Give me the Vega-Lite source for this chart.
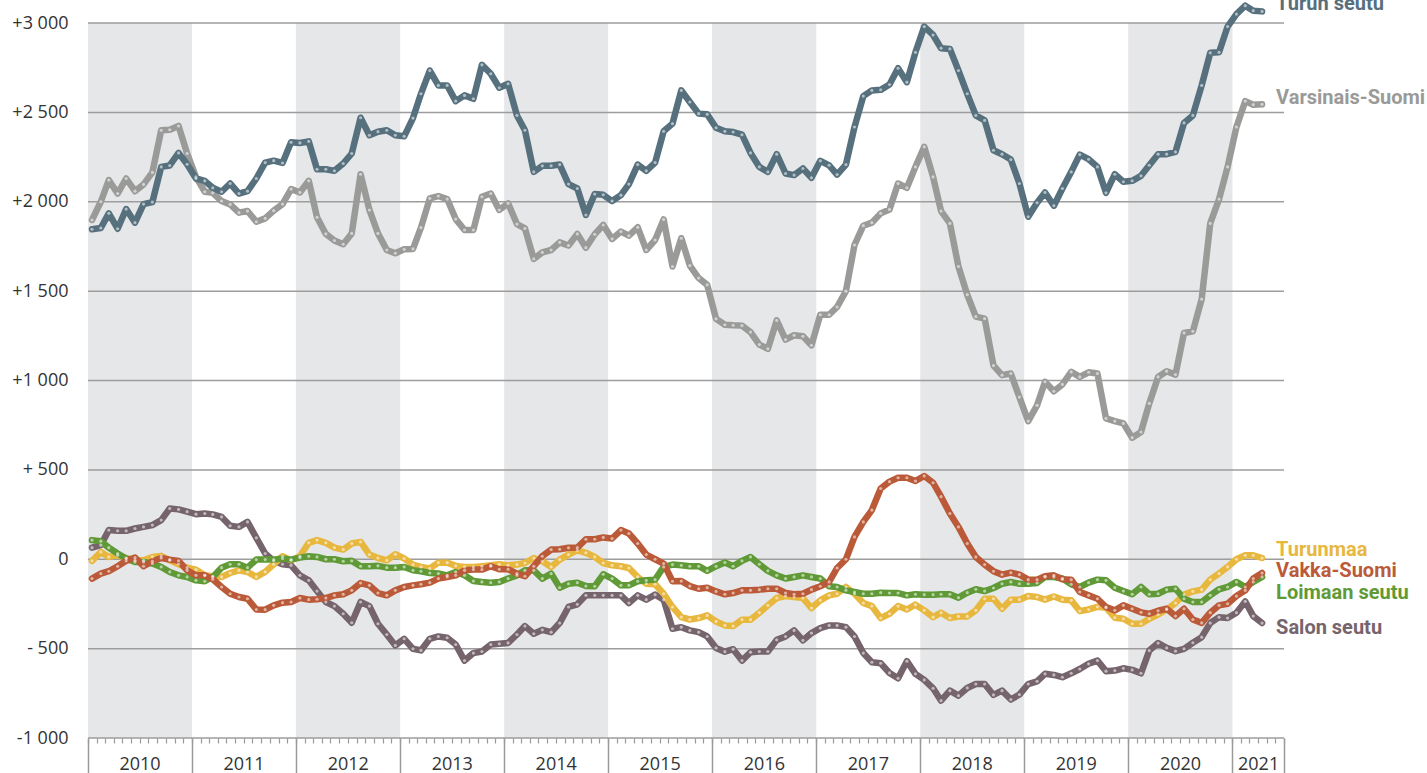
{
"$schema": "https://vega.github.io/schema/vega-lite/v6.json",
"width": 1196,
"height": 715,
"autosize": {"type": "none"},
"padding": {"left": 88, "top": 23, "right": 143, "bottom": 35},
"background": "white",
"config": {"view": {"stroke": null}},
"data": {"format": {"parse": {"date": "date"}}, "values": [
{"name":"Varsinais-Suomi","date":"2010-01-15","value":1898},{"name":"Varsinais-Suomi","date":"2010-02-15","value":2000},{"name":"Varsinais-Suomi","date":"2010-03-15","value":2121},{"name":"Varsinais-Suomi","date":"2010-04-15","value":2046},{"name":"Varsinais-Suomi","date":"2010-05-15","value":2130},{"name":"Varsinais-Suomi","date":"2010-06-15","value":2059},{"name":"Varsinais-Suomi","date":"2010-07-15","value":2097},{"name":"Varsinais-Suomi","date":"2010-08-15","value":2164},{"name":"Varsinais-Suomi","date":"2010-09-15","value":2400},{"name":"Varsinais-Suomi","date":"2010-10-15","value":2403},{"name":"Varsinais-Suomi","date":"2010-11-15","value":2424},{"name":"Varsinais-Suomi","date":"2010-12-15","value":2270},
{"name":"Varsinais-Suomi","date":"2011-01-15","value":2139},{"name":"Varsinais-Suomi","date":"2011-02-15","value":2056},{"name":"Varsinais-Suomi","date":"2011-03-15","value":2050},{"name":"Varsinais-Suomi","date":"2011-04-15","value":2004},{"name":"Varsinais-Suomi","date":"2011-05-15","value":1985},{"name":"Varsinais-Suomi","date":"2011-06-15","value":1939},{"name":"Varsinais-Suomi","date":"2011-07-15","value":1948},{"name":"Varsinais-Suomi","date":"2011-08-15","value":1888},{"name":"Varsinais-Suomi","date":"2011-09-15","value":1907},{"name":"Varsinais-Suomi","date":"2011-10-15","value":1950},{"name":"Varsinais-Suomi","date":"2011-11-15","value":1987},{"name":"Varsinais-Suomi","date":"2011-12-15","value":2071},
{"name":"Varsinais-Suomi","date":"2012-01-15","value":2052},{"name":"Varsinais-Suomi","date":"2012-02-15","value":2117},{"name":"Varsinais-Suomi","date":"2012-03-15","value":1913},{"name":"Varsinais-Suomi","date":"2012-04-15","value":1820},{"name":"Varsinais-Suomi","date":"2012-05-15","value":1783},{"name":"Varsinais-Suomi","date":"2012-06-15","value":1762},{"name":"Varsinais-Suomi","date":"2012-07-15","value":1823},{"name":"Varsinais-Suomi","date":"2012-08-15","value":2154},{"name":"Varsinais-Suomi","date":"2012-09-15","value":1954},{"name":"Varsinais-Suomi","date":"2012-10-15","value":1823},{"name":"Varsinais-Suomi","date":"2012-11-15","value":1730},{"name":"Varsinais-Suomi","date":"2012-12-15","value":1712},
{"name":"Varsinais-Suomi","date":"2013-01-15","value":1734},{"name":"Varsinais-Suomi","date":"2013-02-15","value":1736},{"name":"Varsinais-Suomi","date":"2013-03-15","value":1855},{"name":"Varsinais-Suomi","date":"2013-04-15","value":2019},{"name":"Varsinais-Suomi","date":"2013-05-15","value":2032},{"name":"Varsinais-Suomi","date":"2013-06-15","value":2015},{"name":"Varsinais-Suomi","date":"2013-07-15","value":1903},{"name":"Varsinais-Suomi","date":"2013-08-15","value":1842},{"name":"Varsinais-Suomi","date":"2013-09-15","value":1842},{"name":"Varsinais-Suomi","date":"2013-10-15","value":2028},{"name":"Varsinais-Suomi","date":"2013-11-15","value":2046},{"name":"Varsinais-Suomi","date":"2013-12-15","value":1954},
{"name":"Varsinais-Suomi","date":"2014-01-15","value":1991},{"name":"Varsinais-Suomi","date":"2014-02-15","value":1875},{"name":"Varsinais-Suomi","date":"2014-03-15","value":1851},{"name":"Varsinais-Suomi","date":"2014-04-15","value":1680},{"name":"Varsinais-Suomi","date":"2014-05-15","value":1717},{"name":"Varsinais-Suomi","date":"2014-06-15","value":1730},{"name":"Varsinais-Suomi","date":"2014-07-15","value":1773},{"name":"Varsinais-Suomi","date":"2014-08-15","value":1755},{"name":"Varsinais-Suomi","date":"2014-09-15","value":1820},{"name":"Varsinais-Suomi","date":"2014-10-15","value":1743},{"name":"Varsinais-Suomi","date":"2014-11-15","value":1818},{"name":"Varsinais-Suomi","date":"2014-12-15","value":1870},
{"name":"Varsinais-Suomi","date":"2015-01-15","value":1792},{"name":"Varsinais-Suomi","date":"2015-02-15","value":1833},{"name":"Varsinais-Suomi","date":"2015-03-15","value":1810},{"name":"Varsinais-Suomi","date":"2015-04-15","value":1857},{"name":"Varsinais-Suomi","date":"2015-05-15","value":1730},{"name":"Varsinais-Suomi","date":"2015-06-15","value":1786},{"name":"Varsinais-Suomi","date":"2015-07-15","value":1901},{"name":"Varsinais-Suomi","date":"2015-08-15","value":1638},{"name":"Varsinais-Suomi","date":"2015-09-15","value":1796},{"name":"Varsinais-Suomi","date":"2015-10-15","value":1643},{"name":"Varsinais-Suomi","date":"2015-11-15","value":1573},{"name":"Varsinais-Suomi","date":"2015-12-15","value":1535},
{"name":"Varsinais-Suomi","date":"2016-01-15","value":1345},{"name":"Varsinais-Suomi","date":"2016-02-15","value":1312},{"name":"Varsinais-Suomi","date":"2016-03-15","value":1309},{"name":"Varsinais-Suomi","date":"2016-04-15","value":1307},{"name":"Varsinais-Suomi","date":"2016-05-15","value":1271},{"name":"Varsinais-Suomi","date":"2016-06-15","value":1201},{"name":"Varsinais-Suomi","date":"2016-07-15","value":1177},{"name":"Varsinais-Suomi","date":"2016-08-15","value":1336},{"name":"Varsinais-Suomi","date":"2016-09-15","value":1229},{"name":"Varsinais-Suomi","date":"2016-10-15","value":1253},{"name":"Varsinais-Suomi","date":"2016-11-15","value":1247},{"name":"Varsinais-Suomi","date":"2016-12-15","value":1197},
{"name":"Varsinais-Suomi","date":"2017-01-15","value":1368},{"name":"Varsinais-Suomi","date":"2017-02-15","value":1368},{"name":"Varsinais-Suomi","date":"2017-03-15","value":1411},{"name":"Varsinais-Suomi","date":"2017-04-15","value":1500},{"name":"Varsinais-Suomi","date":"2017-05-15","value":1758},{"name":"Varsinais-Suomi","date":"2017-06-15","value":1866},{"name":"Varsinais-Suomi","date":"2017-07-15","value":1883},{"name":"Varsinais-Suomi","date":"2017-08-15","value":1935},{"name":"Varsinais-Suomi","date":"2017-09-15","value":1957},{"name":"Varsinais-Suomi","date":"2017-10-15","value":2102},{"name":"Varsinais-Suomi","date":"2017-11-15","value":2078},{"name":"Varsinais-Suomi","date":"2017-12-15","value":2195},
{"name":"Varsinais-Suomi","date":"2018-01-15","value":2307},{"name":"Varsinais-Suomi","date":"2018-02-15","value":2139},{"name":"Varsinais-Suomi","date":"2018-03-15","value":1948},{"name":"Varsinais-Suomi","date":"2018-04-15","value":1879},{"name":"Varsinais-Suomi","date":"2018-05-15","value":1638},{"name":"Varsinais-Suomi","date":"2018-06-15","value":1480},{"name":"Varsinais-Suomi","date":"2018-07-15","value":1357},{"name":"Varsinais-Suomi","date":"2018-08-15","value":1346},{"name":"Varsinais-Suomi","date":"2018-09-15","value":1084},{"name":"Varsinais-Suomi","date":"2018-10-15","value":1030},{"name":"Varsinais-Suomi","date":"2018-11-15","value":1039},{"name":"Varsinais-Suomi","date":"2018-12-15","value":907},
{"name":"Varsinais-Suomi","date":"2019-01-15","value":773},{"name":"Varsinais-Suomi","date":"2019-02-15","value":861},{"name":"Varsinais-Suomi","date":"2019-03-15","value":993},{"name":"Varsinais-Suomi","date":"2019-04-15","value":940},{"name":"Varsinais-Suomi","date":"2019-05-15","value":978},{"name":"Varsinais-Suomi","date":"2019-06-15","value":1048},{"name":"Varsinais-Suomi","date":"2019-07-15","value":1020},{"name":"Varsinais-Suomi","date":"2019-08-15","value":1046},{"name":"Varsinais-Suomi","date":"2019-09-15","value":1039},{"name":"Varsinais-Suomi","date":"2019-10-15","value":788},{"name":"Varsinais-Suomi","date":"2019-11-15","value":773},{"name":"Varsinais-Suomi","date":"2019-12-15","value":760},
{"name":"Varsinais-Suomi","date":"2020-01-15","value":680},{"name":"Varsinais-Suomi","date":"2020-02-15","value":712},{"name":"Varsinais-Suomi","date":"2020-03-15","value":872},{"name":"Varsinais-Suomi","date":"2020-04-15","value":1020},{"name":"Varsinais-Suomi","date":"2020-05-15","value":1052},{"name":"Varsinais-Suomi","date":"2020-06-15","value":1033},{"name":"Varsinais-Suomi","date":"2020-07-15","value":1266},{"name":"Varsinais-Suomi","date":"2020-08-15","value":1275},{"name":"Varsinais-Suomi","date":"2020-09-15","value":1455},{"name":"Varsinais-Suomi","date":"2020-10-15","value":1879},{"name":"Varsinais-Suomi","date":"2020-11-15","value":2015},{"name":"Varsinais-Suomi","date":"2020-12-15","value":2195},
{"name":"Varsinais-Suomi","date":"2021-01-15","value":2418},{"name":"Varsinais-Suomi","date":"2021-02-15","value":2563},{"name":"Varsinais-Suomi","date":"2021-03-15","value":2543},{"name":"Varsinais-Suomi","date":"2021-04-15","value":2545},
{"name":"Turun seutu","date":"2010-01-15","value":1846},{"name":"Turun seutu","date":"2010-02-15","value":1853},{"name":"Turun seutu","date":"2010-03-15","value":1935},{"name":"Turun seutu","date":"2010-04-15","value":1849},{"name":"Turun seutu","date":"2010-05-15","value":1959},{"name":"Turun seutu","date":"2010-06-15","value":1883},{"name":"Turun seutu","date":"2010-07-15","value":1987},{"name":"Turun seutu","date":"2010-08-15","value":1998},{"name":"Turun seutu","date":"2010-09-15","value":2195},{"name":"Turun seutu","date":"2010-10-15","value":2203},{"name":"Turun seutu","date":"2010-11-15","value":2273},{"name":"Turun seutu","date":"2010-12-15","value":2210},
{"name":"Turun seutu","date":"2011-01-15","value":2130},{"name":"Turun seutu","date":"2011-02-15","value":2117},{"name":"Turun seutu","date":"2011-03-15","value":2078},{"name":"Turun seutu","date":"2011-04-15","value":2056},{"name":"Turun seutu","date":"2011-05-15","value":2102},{"name":"Turun seutu","date":"2011-06-15","value":2046},{"name":"Turun seutu","date":"2011-07-15","value":2059},{"name":"Turun seutu","date":"2011-08-15","value":2130},{"name":"Turun seutu","date":"2011-09-15","value":2219},{"name":"Turun seutu","date":"2011-10-15","value":2230},{"name":"Turun seutu","date":"2011-11-15","value":2217},{"name":"Turun seutu","date":"2011-12-15","value":2333},
{"name":"Turun seutu","date":"2012-01-15","value":2329},{"name":"Turun seutu","date":"2012-02-15","value":2338},{"name":"Turun seutu","date":"2012-03-15","value":2182},{"name":"Turun seutu","date":"2012-04-15","value":2182},{"name":"Turun seutu","date":"2012-05-15","value":2173},{"name":"Turun seutu","date":"2012-06-15","value":2214},{"name":"Turun seutu","date":"2012-07-15","value":2270},{"name":"Turun seutu","date":"2012-08-15","value":2470},{"name":"Turun seutu","date":"2012-09-15","value":2372},{"name":"Turun seutu","date":"2012-10-15","value":2392},{"name":"Turun seutu","date":"2012-11-15","value":2400},{"name":"Turun seutu","date":"2012-12-15","value":2372},
{"name":"Turun seutu","date":"2013-01-15","value":2366},{"name":"Turun seutu","date":"2013-02-15","value":2468},{"name":"Turun seutu","date":"2013-03-15","value":2604},{"name":"Turun seutu","date":"2013-04-15","value":2734},{"name":"Turun seutu","date":"2013-05-15","value":2651},{"name":"Turun seutu","date":"2013-06-15","value":2651},{"name":"Turun seutu","date":"2013-07-15","value":2563},{"name":"Turun seutu","date":"2013-08-15","value":2595},{"name":"Turun seutu","date":"2013-09-15","value":2576},{"name":"Turun seutu","date":"2013-10-15","value":2766},{"name":"Turun seutu","date":"2013-11-15","value":2716},{"name":"Turun seutu","date":"2013-12-15","value":2638},
{"name":"Turun seutu","date":"2014-01-15","value":2660},{"name":"Turun seutu","date":"2014-02-15","value":2483},{"name":"Turun seutu","date":"2014-03-15","value":2400},{"name":"Turun seutu","date":"2014-04-15","value":2167},{"name":"Turun seutu","date":"2014-05-15","value":2201},{"name":"Turun seutu","date":"2014-06-15","value":2201},{"name":"Turun seutu","date":"2014-07-15","value":2208},{"name":"Turun seutu","date":"2014-08-15","value":2099},{"name":"Turun seutu","date":"2014-09-15","value":2074},{"name":"Turun seutu","date":"2014-10-15","value":1926},{"name":"Turun seutu","date":"2014-11-15","value":2043},{"name":"Turun seutu","date":"2014-12-15","value":2039},
{"name":"Turun seutu","date":"2015-01-15","value":2004},{"name":"Turun seutu","date":"2015-02-15","value":2037},{"name":"Turun seutu","date":"2015-03-15","value":2099},{"name":"Turun seutu","date":"2015-04-15","value":2208},{"name":"Turun seutu","date":"2015-05-15","value":2173},{"name":"Turun seutu","date":"2015-06-15","value":2219},{"name":"Turun seutu","date":"2015-07-15","value":2394},{"name":"Turun seutu","date":"2015-08-15","value":2437},{"name":"Turun seutu","date":"2015-09-15","value":2623},{"name":"Turun seutu","date":"2015-10-15","value":2558},{"name":"Turun seutu","date":"2015-11-15","value":2493},{"name":"Turun seutu","date":"2015-12-15","value":2489},
{"name":"Turun seutu","date":"2016-01-15","value":2414},{"name":"Turun seutu","date":"2016-02-15","value":2394},{"name":"Turun seutu","date":"2016-03-15","value":2390},{"name":"Turun seutu","date":"2016-04-15","value":2375},{"name":"Turun seutu","date":"2016-05-15","value":2273},{"name":"Turun seutu","date":"2016-06-15","value":2195},{"name":"Turun seutu","date":"2016-07-15","value":2167},{"name":"Turun seutu","date":"2016-08-15","value":2266},{"name":"Turun seutu","date":"2016-09-15","value":2158},{"name":"Turun seutu","date":"2016-10-15","value":2149},{"name":"Turun seutu","date":"2016-11-15","value":2186},{"name":"Turun seutu","date":"2016-12-15","value":2134},
{"name":"Turun seutu","date":"2017-01-15","value":2229},{"name":"Turun seutu","date":"2017-02-15","value":2204},{"name":"Turun seutu","date":"2017-03-15","value":2152},{"name":"Turun seutu","date":"2017-04-15","value":2208},{"name":"Turun seutu","date":"2017-05-15","value":2418},{"name":"Turun seutu","date":"2017-06-15","value":2591},{"name":"Turun seutu","date":"2017-07-15","value":2623},{"name":"Turun seutu","date":"2017-08-15","value":2626},{"name":"Turun seutu","date":"2017-09-15","value":2656},{"name":"Turun seutu","date":"2017-10-15","value":2747},{"name":"Turun seutu","date":"2017-11-15","value":2669},{"name":"Turun seutu","date":"2017-12-15","value":2836},
{"name":"Turun seutu","date":"2018-01-15","value":2980},{"name":"Turun seutu","date":"2018-02-15","value":2933},{"name":"Turun seutu","date":"2018-03-15","value":2859},{"name":"Turun seutu","date":"2018-04-15","value":2855},{"name":"Turun seutu","date":"2018-05-15","value":2734},{"name":"Turun seutu","date":"2018-06-15","value":2604},{"name":"Turun seutu","date":"2018-07-15","value":2483},{"name":"Turun seutu","date":"2018-08-15","value":2455},{"name":"Turun seutu","date":"2018-09-15","value":2288},{"name":"Turun seutu","date":"2018-10-15","value":2266},{"name":"Turun seutu","date":"2018-11-15","value":2236},{"name":"Turun seutu","date":"2018-12-15","value":2102},
{"name":"Turun seutu","date":"2019-01-15","value":1916},{"name":"Turun seutu","date":"2019-02-15","value":1994},{"name":"Turun seutu","date":"2019-03-15","value":2052},{"name":"Turun seutu","date":"2019-04-15","value":1978},{"name":"Turun seutu","date":"2019-05-15","value":2074},{"name":"Turun seutu","date":"2019-06-15","value":2167},{"name":"Turun seutu","date":"2019-07-15","value":2264},{"name":"Turun seutu","date":"2019-08-15","value":2238},{"name":"Turun seutu","date":"2019-09-15","value":2195},{"name":"Turun seutu","date":"2019-10-15","value":2050},{"name":"Turun seutu","date":"2019-11-15","value":2154},{"name":"Turun seutu","date":"2019-12-15","value":2112},
{"name":"Turun seutu","date":"2020-01-15","value":2117},{"name":"Turun seutu","date":"2020-02-15","value":2145},{"name":"Turun seutu","date":"2020-03-15","value":2204},{"name":"Turun seutu","date":"2020-04-15","value":2266},{"name":"Turun seutu","date":"2020-05-15","value":2266},{"name":"Turun seutu","date":"2020-06-15","value":2279},{"name":"Turun seutu","date":"2020-07-15","value":2441},{"name":"Turun seutu","date":"2020-08-15","value":2483},{"name":"Turun seutu","date":"2020-09-15","value":2651},{"name":"Turun seutu","date":"2020-10-15","value":2833},{"name":"Turun seutu","date":"2020-11-15","value":2836},{"name":"Turun seutu","date":"2020-12-15","value":2980},
{"name":"Turun seutu","date":"2021-01-15","value":3050},{"name":"Turun seutu","date":"2021-02-15","value":3097},{"name":"Turun seutu","date":"2021-03-15","value":3069},{"name":"Turun seutu","date":"2021-04-15","value":3065},
{"name":"Salon seutu","date":"2010-01-15","value":65},{"name":"Salon seutu","date":"2010-02-15","value":79},{"name":"Salon seutu","date":"2010-03-15","value":163},{"name":"Salon seutu","date":"2010-04-15","value":159},{"name":"Salon seutu","date":"2010-05-15","value":159},{"name":"Salon seutu","date":"2010-06-15","value":172},{"name":"Salon seutu","date":"2010-07-15","value":181},{"name":"Salon seutu","date":"2010-08-15","value":191},{"name":"Salon seutu","date":"2010-09-15","value":219},{"name":"Salon seutu","date":"2010-10-15","value":284},{"name":"Salon seutu","date":"2010-11-15","value":279},{"name":"Salon seutu","date":"2010-12-15","value":266},
{"name":"Salon seutu","date":"2011-01-15","value":252},{"name":"Salon seutu","date":"2011-02-15","value":256},{"name":"Salon seutu","date":"2011-03-15","value":251},{"name":"Salon seutu","date":"2011-04-15","value":237},{"name":"Salon seutu","date":"2011-05-15","value":187},{"name":"Salon seutu","date":"2011-06-15","value":181},{"name":"Salon seutu","date":"2011-07-15","value":209},{"name":"Salon seutu","date":"2011-08-15","value":120},{"name":"Salon seutu","date":"2011-09-15","value":32},{"name":"Salon seutu","date":"2011-10-15","value":-9},{"name":"Salon seutu","date":"2011-11-15","value":-28},{"name":"Salon seutu","date":"2011-12-15","value":-34},
{"name":"Salon seutu","date":"2012-01-15","value":-90},{"name":"Salon seutu","date":"2012-02-15","value":-118},{"name":"Salon seutu","date":"2012-03-15","value":-178},{"name":"Salon seutu","date":"2012-04-15","value":-239},{"name":"Salon seutu","date":"2012-05-15","value":-262},{"name":"Salon seutu","date":"2012-06-15","value":-305},{"name":"Salon seutu","date":"2012-07-15","value":-355},{"name":"Salon seutu","date":"2012-08-15","value":-239},{"name":"Salon seutu","date":"2012-09-15","value":-262},{"name":"Salon seutu","date":"2012-10-15","value":-361},{"name":"Salon seutu","date":"2012-11-15","value":-421},{"name":"Salon seutu","date":"2012-12-15","value":-482},
{"name":"Salon seutu","date":"2013-01-15","value":-445},{"name":"Salon seutu","date":"2013-02-15","value":-501},{"name":"Salon seutu","date":"2013-03-15","value":-510},{"name":"Salon seutu","date":"2013-04-15","value":-445},{"name":"Salon seutu","date":"2013-05-15","value":-432},{"name":"Salon seutu","date":"2013-06-15","value":-439},{"name":"Salon seutu","date":"2013-07-15","value":-477},{"name":"Salon seutu","date":"2013-08-15","value":-567},{"name":"Salon seutu","date":"2013-09-15","value":-525},{"name":"Salon seutu","date":"2013-10-15","value":-516},{"name":"Salon seutu","date":"2013-11-15","value":-477},{"name":"Salon seutu","date":"2013-12-15","value":-473},
{"name":"Salon seutu","date":"2014-01-15","value":-468},{"name":"Salon seutu","date":"2014-02-15","value":-421},{"name":"Salon seutu","date":"2014-03-15","value":-374},{"name":"Salon seutu","date":"2014-04-15","value":-417},{"name":"Salon seutu","date":"2014-05-15","value":-395},{"name":"Salon seutu","date":"2014-06-15","value":-408},{"name":"Salon seutu","date":"2014-07-15","value":-357},{"name":"Salon seutu","date":"2014-08-15","value":-267},{"name":"Salon seutu","date":"2014-09-15","value":-252},{"name":"Salon seutu","date":"2014-10-15","value":-202},{"name":"Salon seutu","date":"2014-11-15","value":-202},{"name":"Salon seutu","date":"2014-12-15","value":-202},
{"name":"Salon seutu","date":"2015-01-15","value":-202},{"name":"Salon seutu","date":"2015-02-15","value":-202},{"name":"Salon seutu","date":"2015-03-15","value":-245},{"name":"Salon seutu","date":"2015-04-15","value":-202},{"name":"Salon seutu","date":"2015-05-15","value":-226},{"name":"Salon seutu","date":"2015-06-15","value":-198},{"name":"Salon seutu","date":"2015-07-15","value":-226},{"name":"Salon seutu","date":"2015-08-15","value":-389},{"name":"Salon seutu","date":"2015-09-15","value":-380},{"name":"Salon seutu","date":"2015-10-15","value":-398},{"name":"Salon seutu","date":"2015-11-15","value":-408},{"name":"Salon seutu","date":"2015-12-15","value":-432},
{"name":"Salon seutu","date":"2016-01-15","value":-496},{"name":"Salon seutu","date":"2016-02-15","value":-517},{"name":"Salon seutu","date":"2016-03-15","value":-503},{"name":"Salon seutu","date":"2016-04-15","value":-567},{"name":"Salon seutu","date":"2016-05-15","value":-520},{"name":"Salon seutu","date":"2016-06-15","value":-516},{"name":"Salon seutu","date":"2016-07-15","value":-516},{"name":"Salon seutu","date":"2016-08-15","value":-451},{"name":"Salon seutu","date":"2016-09-15","value":-432},{"name":"Salon seutu","date":"2016-10-15","value":-398},{"name":"Salon seutu","date":"2016-11-15","value":-454},{"name":"Salon seutu","date":"2016-12-15","value":-413},
{"name":"Salon seutu","date":"2017-01-15","value":-385},{"name":"Salon seutu","date":"2017-02-15","value":-370},{"name":"Salon seutu","date":"2017-03-15","value":-370},{"name":"Salon seutu","date":"2017-04-15","value":-380},{"name":"Salon seutu","date":"2017-05-15","value":-432},{"name":"Salon seutu","date":"2017-06-15","value":-525},{"name":"Salon seutu","date":"2017-07-15","value":-576},{"name":"Salon seutu","date":"2017-08-15","value":-582},{"name":"Salon seutu","date":"2017-09-15","value":-636},{"name":"Salon seutu","date":"2017-10-15","value":-666},{"name":"Salon seutu","date":"2017-11-15","value":-570},{"name":"Salon seutu","date":"2017-12-15","value":-641},
{"name":"Salon seutu","date":"2018-01-15","value":-675},{"name":"Salon seutu","date":"2018-02-15","value":-722},{"name":"Salon seutu","date":"2018-03-15","value":-791},{"name":"Salon seutu","date":"2018-04-15","value":-735},{"name":"Salon seutu","date":"2018-05-15","value":-763},{"name":"Salon seutu","date":"2018-06-15","value":-720},{"name":"Salon seutu","date":"2018-07-15","value":-698},{"name":"Salon seutu","date":"2018-08-15","value":-698},{"name":"Salon seutu","date":"2018-09-15","value":-759},{"name":"Salon seutu","date":"2018-10-15","value":-735},{"name":"Salon seutu","date":"2018-11-15","value":-785},{"name":"Salon seutu","date":"2018-12-15","value":-757},
{"name":"Salon seutu","date":"2019-01-15","value":-698},{"name":"Salon seutu","date":"2019-02-15","value":-683},{"name":"Salon seutu","date":"2019-03-15","value":-641},{"name":"Salon seutu","date":"2019-04-15","value":-647},{"name":"Salon seutu","date":"2019-05-15","value":-660},{"name":"Salon seutu","date":"2019-06-15","value":-638},{"name":"Salon seutu","date":"2019-07-15","value":-614},{"name":"Salon seutu","date":"2019-08-15","value":-585},{"name":"Salon seutu","date":"2019-09-15","value":-567},{"name":"Salon seutu","date":"2019-10-15","value":-626},{"name":"Salon seutu","date":"2019-11-15","value":-623},{"name":"Salon seutu","date":"2019-12-15","value":-610},
{"name":"Salon seutu","date":"2020-01-15","value":-619},{"name":"Salon seutu","date":"2020-02-15","value":-638},{"name":"Salon seutu","date":"2020-03-15","value":-511},{"name":"Salon seutu","date":"2020-04-15","value":-469},{"name":"Salon seutu","date":"2020-05-15","value":-496},{"name":"Salon seutu","date":"2020-06-15","value":-514},{"name":"Salon seutu","date":"2020-07-15","value":-501},{"name":"Salon seutu","date":"2020-08-15","value":-467},{"name":"Salon seutu","date":"2020-09-15","value":-436},{"name":"Salon seutu","date":"2020-10-15","value":-357},{"name":"Salon seutu","date":"2020-11-15","value":-324},{"name":"Salon seutu","date":"2020-12-15","value":-329},
{"name":"Salon seutu","date":"2021-01-15","value":-299},{"name":"Salon seutu","date":"2021-02-15","value":-236},{"name":"Salon seutu","date":"2021-03-15","value":-318},{"name":"Salon seutu","date":"2021-04-15","value":-357},
{"name":"Turunmaa","date":"2010-01-15","value":-9},{"name":"Turunmaa","date":"2010-02-15","value":41},{"name":"Turunmaa","date":"2010-03-15","value":13},{"name":"Turunmaa","date":"2010-04-15","value":22},{"name":"Turunmaa","date":"2010-05-15","value":7},{"name":"Turunmaa","date":"2010-06-15","value":-6},{"name":"Turunmaa","date":"2010-07-15","value":-6},{"name":"Turunmaa","date":"2010-08-15","value":13},{"name":"Turunmaa","date":"2010-09-15","value":19},{"name":"Turunmaa","date":"2010-10-15","value":-6},{"name":"Turunmaa","date":"2010-11-15","value":-28},{"name":"Turunmaa","date":"2010-12-15","value":-47},
{"name":"Turunmaa","date":"2011-01-15","value":-58},{"name":"Turunmaa","date":"2011-02-15","value":-90},{"name":"Turunmaa","date":"2011-03-15","value":-95},{"name":"Turunmaa","date":"2011-04-15","value":-99},{"name":"Turunmaa","date":"2011-05-15","value":-77},{"name":"Turunmaa","date":"2011-06-15","value":-62},{"name":"Turunmaa","date":"2011-07-15","value":-71},{"name":"Turunmaa","date":"2011-08-15","value":-99},{"name":"Turunmaa","date":"2011-09-15","value":-71},{"name":"Turunmaa","date":"2011-10-15","value":-28},{"name":"Turunmaa","date":"2011-11-15","value":17},{"name":"Turunmaa","date":"2011-12-15","value":-6},
{"name":"Turunmaa","date":"2012-01-15","value":17},{"name":"Turunmaa","date":"2012-02-15","value":92},{"name":"Turunmaa","date":"2012-03-15","value":107},{"name":"Turunmaa","date":"2012-04-15","value":92},{"name":"Turunmaa","date":"2012-05-15","value":65},{"name":"Turunmaa","date":"2012-06-15","value":54},{"name":"Turunmaa","date":"2012-07-15","value":88},{"name":"Turunmaa","date":"2012-08-15","value":97},{"name":"Turunmaa","date":"2012-09-15","value":26},{"name":"Turunmaa","date":"2012-10-15","value":7},{"name":"Turunmaa","date":"2012-11-15","value":-6},{"name":"Turunmaa","date":"2012-12-15","value":28},
{"name":"Turunmaa","date":"2013-01-15","value":4},{"name":"Turunmaa","date":"2013-02-15","value":-30},{"name":"Turunmaa","date":"2013-03-15","value":-43},{"name":"Turunmaa","date":"2013-04-15","value":-52},{"name":"Turunmaa","date":"2013-05-15","value":-19},{"name":"Turunmaa","date":"2013-06-15","value":-19},{"name":"Turunmaa","date":"2013-07-15","value":-37},{"name":"Turunmaa","date":"2013-08-15","value":-43},{"name":"Turunmaa","date":"2013-09-15","value":-43},{"name":"Turunmaa","date":"2013-10-15","value":-39},{"name":"Turunmaa","date":"2013-11-15","value":-34},{"name":"Turunmaa","date":"2013-12-15","value":-28},
{"name":"Turunmaa","date":"2014-01-15","value":-34},{"name":"Turunmaa","date":"2014-02-15","value":-30},{"name":"Turunmaa","date":"2014-03-15","value":-21},{"name":"Turunmaa","date":"2014-04-15","value":7},{"name":"Turunmaa","date":"2014-05-15","value":-11},{"name":"Turunmaa","date":"2014-06-15","value":-43},{"name":"Turunmaa","date":"2014-07-15","value":-2},{"name":"Turunmaa","date":"2014-08-15","value":26},{"name":"Turunmaa","date":"2014-09-15","value":50},{"name":"Turunmaa","date":"2014-10-15","value":36},{"name":"Turunmaa","date":"2014-11-15","value":13},{"name":"Turunmaa","date":"2014-12-15","value":-21},
{"name":"Turunmaa","date":"2015-01-15","value":-34},{"name":"Turunmaa","date":"2015-02-15","value":-39},{"name":"Turunmaa","date":"2015-03-15","value":-49},{"name":"Turunmaa","date":"2015-04-15","value":-99},{"name":"Turunmaa","date":"2015-05-15","value":-137},{"name":"Turunmaa","date":"2015-06-15","value":-140},{"name":"Turunmaa","date":"2015-07-15","value":-193},{"name":"Turunmaa","date":"2015-08-15","value":-267},{"name":"Turunmaa","date":"2015-09-15","value":-324},{"name":"Turunmaa","date":"2015-10-15","value":-337},{"name":"Turunmaa","date":"2015-11-15","value":-329},{"name":"Turunmaa","date":"2015-12-15","value":-314},
{"name":"Turunmaa","date":"2016-01-15","value":-348},{"name":"Turunmaa","date":"2016-02-15","value":-370},{"name":"Turunmaa","date":"2016-03-15","value":-374},{"name":"Turunmaa","date":"2016-04-15","value":-338},{"name":"Turunmaa","date":"2016-05-15","value":-338},{"name":"Turunmaa","date":"2016-06-15","value":-299},{"name":"Turunmaa","date":"2016-07-15","value":-258},{"name":"Turunmaa","date":"2016-08-15","value":-217},{"name":"Turunmaa","date":"2016-09-15","value":-206},{"name":"Turunmaa","date":"2016-10-15","value":-211},{"name":"Turunmaa","date":"2016-11-15","value":-217},{"name":"Turunmaa","date":"2016-12-15","value":-273},
{"name":"Turunmaa","date":"2017-01-15","value":-230},{"name":"Turunmaa","date":"2017-02-15","value":-202},{"name":"Turunmaa","date":"2017-03-15","value":-193},{"name":"Turunmaa","date":"2017-04-15","value":-155},{"name":"Turunmaa","date":"2017-05-15","value":-193},{"name":"Turunmaa","date":"2017-06-15","value":-245},{"name":"Turunmaa","date":"2017-07-15","value":-262},{"name":"Turunmaa","date":"2017-08-15","value":-329},{"name":"Turunmaa","date":"2017-09-15","value":-305},{"name":"Turunmaa","date":"2017-10-15","value":-262},{"name":"Turunmaa","date":"2017-11-15","value":-281},{"name":"Turunmaa","date":"2017-12-15","value":-254},
{"name":"Turunmaa","date":"2018-01-15","value":-286},{"name":"Turunmaa","date":"2018-02-15","value":-324},{"name":"Turunmaa","date":"2018-03-15","value":-299},{"name":"Turunmaa","date":"2018-04-15","value":-329},{"name":"Turunmaa","date":"2018-05-15","value":-320},{"name":"Turunmaa","date":"2018-06-15","value":-320},{"name":"Turunmaa","date":"2018-07-15","value":-286},{"name":"Turunmaa","date":"2018-08-15","value":-221},{"name":"Turunmaa","date":"2018-09-15","value":-221},{"name":"Turunmaa","date":"2018-10-15","value":-277},{"name":"Turunmaa","date":"2018-11-15","value":-226},{"name":"Turunmaa","date":"2018-12-15","value":-226},
{"name":"Turunmaa","date":"2019-01-15","value":-206},{"name":"Turunmaa","date":"2019-02-15","value":-211},{"name":"Turunmaa","date":"2019-03-15","value":-226},{"name":"Turunmaa","date":"2019-04-15","value":-208},{"name":"Turunmaa","date":"2019-05-15","value":-226},{"name":"Turunmaa","date":"2019-06-15","value":-230},{"name":"Turunmaa","date":"2019-07-15","value":-290},{"name":"Turunmaa","date":"2019-08-15","value":-281},{"name":"Turunmaa","date":"2019-09-15","value":-266},{"name":"Turunmaa","date":"2019-10-15","value":-271},{"name":"Turunmaa","date":"2019-11-15","value":-327},{"name":"Turunmaa","date":"2019-12-15","value":-333},
{"name":"Turunmaa","date":"2020-01-15","value":-361},{"name":"Turunmaa","date":"2020-02-15","value":-361},{"name":"Turunmaa","date":"2020-03-15","value":-333},{"name":"Turunmaa","date":"2020-04-15","value":-309},{"name":"Turunmaa","date":"2020-05-15","value":-281},{"name":"Turunmaa","date":"2020-06-15","value":-245},{"name":"Turunmaa","date":"2020-07-15","value":-198},{"name":"Turunmaa","date":"2020-08-15","value":-180},{"name":"Turunmaa","date":"2020-09-15","value":-170},{"name":"Turunmaa","date":"2020-10-15","value":-114},{"name":"Turunmaa","date":"2020-11-15","value":-80},{"name":"Turunmaa","date":"2020-12-15","value":-43},
{"name":"Turunmaa","date":"2021-01-15","value":0},{"name":"Turunmaa","date":"2021-02-15","value":22},{"name":"Turunmaa","date":"2021-03-15","value":22},{"name":"Turunmaa","date":"2021-04-15","value":7},
{"name":"Loimaan seutu","date":"2010-01-15","value":107},{"name":"Loimaan seutu","date":"2010-02-15","value":101},{"name":"Loimaan seutu","date":"2010-03-15","value":65},{"name":"Loimaan seutu","date":"2010-04-15","value":32},{"name":"Loimaan seutu","date":"2010-05-15","value":4},{"name":"Loimaan seutu","date":"2010-06-15","value":-15},{"name":"Loimaan seutu","date":"2010-07-15","value":-15},{"name":"Loimaan seutu","date":"2010-08-15","value":-24},{"name":"Loimaan seutu","date":"2010-09-15","value":-43},{"name":"Loimaan seutu","date":"2010-10-15","value":-71},{"name":"Loimaan seutu","date":"2010-11-15","value":-90},{"name":"Loimaan seutu","date":"2010-12-15","value":-99},
{"name":"Loimaan seutu","date":"2011-01-15","value":-118},{"name":"Loimaan seutu","date":"2011-02-15","value":-123},{"name":"Loimaan seutu","date":"2011-03-15","value":-99},{"name":"Loimaan seutu","date":"2011-04-15","value":-47},{"name":"Loimaan seutu","date":"2011-05-15","value":-28},{"name":"Loimaan seutu","date":"2011-06-15","value":-28},{"name":"Loimaan seutu","date":"2011-07-15","value":-47},{"name":"Loimaan seutu","date":"2011-08-15","value":-2},{"name":"Loimaan seutu","date":"2011-09-15","value":-2},{"name":"Loimaan seutu","date":"2011-10-15","value":-2},{"name":"Loimaan seutu","date":"2011-11-15","value":4},{"name":"Loimaan seutu","date":"2011-12-15","value":-2},
{"name":"Loimaan seutu","date":"2012-01-15","value":9},{"name":"Loimaan seutu","date":"2012-02-15","value":17},{"name":"Loimaan seutu","date":"2012-03-15","value":13},{"name":"Loimaan seutu","date":"2012-04-15","value":0},{"name":"Loimaan seutu","date":"2012-05-15","value":0},{"name":"Loimaan seutu","date":"2012-06-15","value":-11},{"name":"Loimaan seutu","date":"2012-07-15","value":-9},{"name":"Loimaan seutu","date":"2012-08-15","value":-39},{"name":"Loimaan seutu","date":"2012-09-15","value":-39},{"name":"Loimaan seutu","date":"2012-10-15","value":-37},{"name":"Loimaan seutu","date":"2012-11-15","value":-47},{"name":"Loimaan seutu","date":"2012-12-15","value":-47},
{"name":"Loimaan seutu","date":"2013-01-15","value":-43},{"name":"Loimaan seutu","date":"2013-02-15","value":-62},{"name":"Loimaan seutu","date":"2013-03-15","value":-67},{"name":"Loimaan seutu","date":"2013-04-15","value":-77},{"name":"Loimaan seutu","date":"2013-05-15","value":-80},{"name":"Loimaan seutu","date":"2013-06-15","value":-90},{"name":"Loimaan seutu","date":"2013-07-15","value":-71},{"name":"Loimaan seutu","date":"2013-08-15","value":-90},{"name":"Loimaan seutu","date":"2013-09-15","value":-122},{"name":"Loimaan seutu","date":"2013-10-15","value":-127},{"name":"Loimaan seutu","date":"2013-11-15","value":-131},{"name":"Loimaan seutu","date":"2013-12-15","value":-127},
{"name":"Loimaan seutu","date":"2014-01-15","value":-108},{"name":"Loimaan seutu","date":"2014-02-15","value":-90},{"name":"Loimaan seutu","date":"2014-03-15","value":-62},{"name":"Loimaan seutu","date":"2014-04-15","value":-62},{"name":"Loimaan seutu","date":"2014-05-15","value":-108},{"name":"Loimaan seutu","date":"2014-06-15","value":-80},{"name":"Loimaan seutu","date":"2014-07-15","value":-159},{"name":"Loimaan seutu","date":"2014-08-15","value":-137},{"name":"Loimaan seutu","date":"2014-09-15","value":-131},{"name":"Loimaan seutu","date":"2014-10-15","value":-150},{"name":"Loimaan seutu","date":"2014-11-15","value":-151},{"name":"Loimaan seutu","date":"2014-12-15","value":-84},
{"name":"Loimaan seutu","date":"2015-01-15","value":-108},{"name":"Loimaan seutu","date":"2015-02-15","value":-146},{"name":"Loimaan seutu","date":"2015-03-15","value":-146},{"name":"Loimaan seutu","date":"2015-04-15","value":-123},{"name":"Loimaan seutu","date":"2015-05-15","value":-118},{"name":"Loimaan seutu","date":"2015-06-15","value":-114},{"name":"Loimaan seutu","date":"2015-07-15","value":-43},{"name":"Loimaan seutu","date":"2015-08-15","value":-30},{"name":"Loimaan seutu","date":"2015-09-15","value":-34},{"name":"Loimaan seutu","date":"2015-10-15","value":-39},{"name":"Loimaan seutu","date":"2015-11-15","value":-39},{"name":"Loimaan seutu","date":"2015-12-15","value":-65},
{"name":"Loimaan seutu","date":"2016-01-15","value":-39},{"name":"Loimaan seutu","date":"2016-02-15","value":-18},{"name":"Loimaan seutu","date":"2016-03-15","value":-39},{"name":"Loimaan seutu","date":"2016-04-15","value":-9},{"name":"Loimaan seutu","date":"2016-05-15","value":13},{"name":"Loimaan seutu","date":"2016-06-15","value":-28},{"name":"Loimaan seutu","date":"2016-07-15","value":-65},{"name":"Loimaan seutu","date":"2016-08-15","value":-90},{"name":"Loimaan seutu","date":"2016-09-15","value":-108},{"name":"Loimaan seutu","date":"2016-10-15","value":-99},{"name":"Loimaan seutu","date":"2016-11-15","value":-90},{"name":"Loimaan seutu","date":"2016-12-15","value":-99},
{"name":"Loimaan seutu","date":"2017-01-15","value":-108},{"name":"Loimaan seutu","date":"2017-02-15","value":-151},{"name":"Loimaan seutu","date":"2017-03-15","value":-155},{"name":"Loimaan seutu","date":"2017-04-15","value":-174},{"name":"Loimaan seutu","date":"2017-05-15","value":-183},{"name":"Loimaan seutu","date":"2017-06-15","value":-193},{"name":"Loimaan seutu","date":"2017-07-15","value":-193},{"name":"Loimaan seutu","date":"2017-08-15","value":-187},{"name":"Loimaan seutu","date":"2017-09-15","value":-189},{"name":"Loimaan seutu","date":"2017-10-15","value":-189},{"name":"Loimaan seutu","date":"2017-11-15","value":-202},{"name":"Loimaan seutu","date":"2017-12-15","value":-196},
{"name":"Loimaan seutu","date":"2018-01-15","value":-198},{"name":"Loimaan seutu","date":"2018-02-15","value":-198},{"name":"Loimaan seutu","date":"2018-03-15","value":-196},{"name":"Loimaan seutu","date":"2018-04-15","value":-196},{"name":"Loimaan seutu","date":"2018-05-15","value":-215},{"name":"Loimaan seutu","date":"2018-06-15","value":-187},{"name":"Loimaan seutu","date":"2018-07-15","value":-168},{"name":"Loimaan seutu","date":"2018-08-15","value":-178},{"name":"Loimaan seutu","date":"2018-09-15","value":-161},{"name":"Loimaan seutu","date":"2018-10-15","value":-137},{"name":"Loimaan seutu","date":"2018-11-15","value":-127},{"name":"Loimaan seutu","date":"2018-12-15","value":-137},
{"name":"Loimaan seutu","date":"2019-01-15","value":-137},{"name":"Loimaan seutu","date":"2019-02-15","value":-133},{"name":"Loimaan seutu","date":"2019-03-15","value":-99},{"name":"Loimaan seutu","date":"2019-04-15","value":-99},{"name":"Loimaan seutu","date":"2019-05-15","value":-108},{"name":"Loimaan seutu","date":"2019-06-15","value":-140},{"name":"Loimaan seutu","date":"2019-07-15","value":-155},{"name":"Loimaan seutu","date":"2019-08-15","value":-131},{"name":"Loimaan seutu","date":"2019-09-15","value":-114},{"name":"Loimaan seutu","date":"2019-10-15","value":-118},{"name":"Loimaan seutu","date":"2019-11-15","value":-159},{"name":"Loimaan seutu","date":"2019-12-15","value":-178},
{"name":"Loimaan seutu","date":"2020-01-15","value":-196},{"name":"Loimaan seutu","date":"2020-02-15","value":-155},{"name":"Loimaan seutu","date":"2020-03-15","value":-196},{"name":"Loimaan seutu","date":"2020-04-15","value":-193},{"name":"Loimaan seutu","date":"2020-05-15","value":-170},{"name":"Loimaan seutu","date":"2020-06-15","value":-165},{"name":"Loimaan seutu","date":"2020-07-15","value":-221},{"name":"Loimaan seutu","date":"2020-08-15","value":-239},{"name":"Loimaan seutu","date":"2020-09-15","value":-239},{"name":"Loimaan seutu","date":"2020-10-15","value":-202},{"name":"Loimaan seutu","date":"2020-11-15","value":-168},{"name":"Loimaan seutu","date":"2020-12-15","value":-155},
{"name":"Loimaan seutu","date":"2021-01-15","value":-127},{"name":"Loimaan seutu","date":"2021-02-15","value":-155},{"name":"Loimaan seutu","date":"2021-03-15","value":-127},{"name":"Loimaan seutu","date":"2021-04-15","value":-99},
{"name":"Vakka-Suomi","date":"2010-01-15","value":-108},{"name":"Vakka-Suomi","date":"2010-02-15","value":-80},{"name":"Vakka-Suomi","date":"2010-03-15","value":-67},{"name":"Vakka-Suomi","date":"2010-04-15","value":-39},{"name":"Vakka-Suomi","date":"2010-05-15","value":-9},{"name":"Vakka-Suomi","date":"2010-06-15","value":9},{"name":"Vakka-Suomi","date":"2010-07-15","value":-39},{"name":"Vakka-Suomi","date":"2010-08-15","value":-11},{"name":"Vakka-Suomi","date":"2010-09-15","value":7},{"name":"Vakka-Suomi","date":"2010-10-15","value":-2},{"name":"Vakka-Suomi","date":"2010-11-15","value":-9},{"name":"Vakka-Suomi","date":"2010-12-15","value":-62},
{"name":"Vakka-Suomi","date":"2011-01-15","value":-90},{"name":"Vakka-Suomi","date":"2011-02-15","value":-90},{"name":"Vakka-Suomi","date":"2011-03-15","value":-112},{"name":"Vakka-Suomi","date":"2011-04-15","value":-155},{"name":"Vakka-Suomi","date":"2011-05-15","value":-193},{"name":"Vakka-Suomi","date":"2011-06-15","value":-211},{"name":"Vakka-Suomi","date":"2011-07-15","value":-221},{"name":"Vakka-Suomi","date":"2011-08-15","value":-281},{"name":"Vakka-Suomi","date":"2011-09-15","value":-282},{"name":"Vakka-Suomi","date":"2011-10-15","value":-258},{"name":"Vakka-Suomi","date":"2011-11-15","value":-243},{"name":"Vakka-Suomi","date":"2011-12-15","value":-239},
{"name":"Vakka-Suomi","date":"2012-01-15","value":-217},{"name":"Vakka-Suomi","date":"2012-02-15","value":-226},{"name":"Vakka-Suomi","date":"2012-03-15","value":-224},{"name":"Vakka-Suomi","date":"2012-04-15","value":-217},{"name":"Vakka-Suomi","date":"2012-05-15","value":-202},{"name":"Vakka-Suomi","date":"2012-06-15","value":-196},{"name":"Vakka-Suomi","date":"2012-07-15","value":-174},{"name":"Vakka-Suomi","date":"2012-08-15","value":-133},{"name":"Vakka-Suomi","date":"2012-09-15","value":-146},{"name":"Vakka-Suomi","date":"2012-10-15","value":-189},{"name":"Vakka-Suomi","date":"2012-11-15","value":-202},{"name":"Vakka-Suomi","date":"2012-12-15","value":-174},
{"name":"Vakka-Suomi","date":"2013-01-15","value":-155},{"name":"Vakka-Suomi","date":"2013-02-15","value":-146},{"name":"Vakka-Suomi","date":"2013-03-15","value":-140},{"name":"Vakka-Suomi","date":"2013-04-15","value":-131},{"name":"Vakka-Suomi","date":"2013-05-15","value":-108},{"name":"Vakka-Suomi","date":"2013-06-15","value":-99},{"name":"Vakka-Suomi","date":"2013-07-15","value":-90},{"name":"Vakka-Suomi","date":"2013-08-15","value":-62},{"name":"Vakka-Suomi","date":"2013-09-15","value":-58},{"name":"Vakka-Suomi","date":"2013-10-15","value":-58},{"name":"Vakka-Suomi","date":"2013-11-15","value":-39},{"name":"Vakka-Suomi","date":"2013-12-15","value":-56},
{"name":"Vakka-Suomi","date":"2014-01-15","value":-56},{"name":"Vakka-Suomi","date":"2014-02-15","value":-80},{"name":"Vakka-Suomi","date":"2014-03-15","value":-95},{"name":"Vakka-Suomi","date":"2014-04-15","value":-39},{"name":"Vakka-Suomi","date":"2014-05-15","value":17},{"name":"Vakka-Suomi","date":"2014-06-15","value":54},{"name":"Vakka-Suomi","date":"2014-07-15","value":56},{"name":"Vakka-Suomi","date":"2014-08-15","value":64},{"name":"Vakka-Suomi","date":"2014-09-15","value":65},{"name":"Vakka-Suomi","date":"2014-10-15","value":112},{"name":"Vakka-Suomi","date":"2014-11-15","value":112},{"name":"Vakka-Suomi","date":"2014-12-15","value":122},
{"name":"Vakka-Suomi","date":"2015-01-15","value":116},{"name":"Vakka-Suomi","date":"2015-02-15","value":163},{"name":"Vakka-Suomi","date":"2015-03-15","value":144},{"name":"Vakka-Suomi","date":"2015-04-15","value":88},{"name":"Vakka-Suomi","date":"2015-05-15","value":26},{"name":"Vakka-Suomi","date":"2015-06-15","value":0},{"name":"Vakka-Suomi","date":"2015-07-15","value":-24},{"name":"Vakka-Suomi","date":"2015-08-15","value":-123},{"name":"Vakka-Suomi","date":"2015-09-15","value":-122},{"name":"Vakka-Suomi","date":"2015-10-15","value":-150},{"name":"Vakka-Suomi","date":"2015-11-15","value":-165},{"name":"Vakka-Suomi","date":"2015-12-15","value":-159},
{"name":"Vakka-Suomi","date":"2016-01-15","value":-180},{"name":"Vakka-Suomi","date":"2016-02-15","value":-196},{"name":"Vakka-Suomi","date":"2016-03-15","value":-189},{"name":"Vakka-Suomi","date":"2016-04-15","value":-174},{"name":"Vakka-Suomi","date":"2016-05-15","value":-174},{"name":"Vakka-Suomi","date":"2016-06-15","value":-170},{"name":"Vakka-Suomi","date":"2016-07-15","value":-165},{"name":"Vakka-Suomi","date":"2016-08-15","value":-165},{"name":"Vakka-Suomi","date":"2016-09-15","value":-189},{"name":"Vakka-Suomi","date":"2016-10-15","value":-196},{"name":"Vakka-Suomi","date":"2016-11-15","value":-193},{"name":"Vakka-Suomi","date":"2016-12-15","value":-170},
{"name":"Vakka-Suomi","date":"2017-01-15","value":-151},{"name":"Vakka-Suomi","date":"2017-02-15","value":-127},{"name":"Vakka-Suomi","date":"2017-03-15","value":-49},{"name":"Vakka-Suomi","date":"2017-04-15","value":0},{"name":"Vakka-Suomi","date":"2017-05-15","value":125},{"name":"Vakka-Suomi","date":"2017-06-15","value":209},{"name":"Vakka-Suomi","date":"2017-07-15","value":275},{"name":"Vakka-Suomi","date":"2017-08-15","value":396},{"name":"Vakka-Suomi","date":"2017-09-15","value":434},{"name":"Vakka-Suomi","date":"2017-10-15","value":456},{"name":"Vakka-Suomi","date":"2017-11-15","value":456},{"name":"Vakka-Suomi","date":"2017-12-15","value":438},
{"name":"Vakka-Suomi","date":"2018-01-15","value":466},{"name":"Vakka-Suomi","date":"2018-02-15","value":428},{"name":"Vakka-Suomi","date":"2018-03-15","value":350},{"name":"Vakka-Suomi","date":"2018-04-15","value":256},{"name":"Vakka-Suomi","date":"2018-05-15","value":181},{"name":"Vakka-Suomi","date":"2018-06-15","value":88},{"name":"Vakka-Suomi","date":"2018-07-15","value":13},{"name":"Vakka-Suomi","date":"2018-08-15","value":-30},{"name":"Vakka-Suomi","date":"2018-09-15","value":-67},{"name":"Vakka-Suomi","date":"2018-10-15","value":-86},{"name":"Vakka-Suomi","date":"2018-11-15","value":-75},{"name":"Vakka-Suomi","date":"2018-12-15","value":-86},
{"name":"Vakka-Suomi","date":"2019-01-15","value":-114},{"name":"Vakka-Suomi","date":"2019-02-15","value":-114},{"name":"Vakka-Suomi","date":"2019-03-15","value":-95},{"name":"Vakka-Suomi","date":"2019-04-15","value":-90},{"name":"Vakka-Suomi","date":"2019-05-15","value":-112},{"name":"Vakka-Suomi","date":"2019-06-15","value":-114},{"name":"Vakka-Suomi","date":"2019-07-15","value":-183},{"name":"Vakka-Suomi","date":"2019-08-15","value":-202},{"name":"Vakka-Suomi","date":"2019-09-15","value":-221},{"name":"Vakka-Suomi","date":"2019-10-15","value":-267},{"name":"Vakka-Suomi","date":"2019-11-15","value":-286},{"name":"Vakka-Suomi","date":"2019-12-15","value":-258},
{"name":"Vakka-Suomi","date":"2020-01-15","value":-277},{"name":"Vakka-Suomi","date":"2020-02-15","value":-297},{"name":"Vakka-Suomi","date":"2020-03-15","value":-305},{"name":"Vakka-Suomi","date":"2020-04-15","value":-288},{"name":"Vakka-Suomi","date":"2020-05-15","value":-277},{"name":"Vakka-Suomi","date":"2020-06-15","value":-318},{"name":"Vakka-Suomi","date":"2020-07-15","value":-277},{"name":"Vakka-Suomi","date":"2020-08-15","value":-337},{"name":"Vakka-Suomi","date":"2020-09-15","value":-356},{"name":"Vakka-Suomi","date":"2020-10-15","value":-299},{"name":"Vakka-Suomi","date":"2020-11-15","value":-258},{"name":"Vakka-Suomi","date":"2020-12-15","value":-249},
{"name":"Vakka-Suomi","date":"2021-01-15","value":-206},{"name":"Vakka-Suomi","date":"2021-02-15","value":-174},{"name":"Vakka-Suomi","date":"2021-03-15","value":-108},{"name":"Vakka-Suomi","date":"2021-04-15","value":-77}
]},
"resolve": {"axis": {"x": "independent", "y": "independent"}},
"layer": [
{
"data": {"values": [{"start":"2010-01-01","end":"2011-01-01"},{"start":"2012-01-01","end":"2013-01-01"},{"start":"2014-01-01","end":"2015-01-01"},{"start":"2016-01-01","end":"2017-01-01"},{"start":"2018-01-01","end":"2019-01-01"},{"start":"2020-01-01","end":"2021-01-01"}]},
"mark": {"type": "rect", "color": "#e6e7e9"},
"encoding": {
"x": {"field": "start", "type": "temporal",
"scale": {"type": "utc", "domain": [{"year":2010,"month":1,"date":1,"utc":true},{"year":2021,"month":7,"date":1,"utc":true}]},
"axis": {"orient": "bottom", "title": null, "labels": false, "domain": false, "grid": false, "tickSize": 36, "tickColor": "#9a9a9a", "tickWidth": 1.5,
"values": [{"year":2010,"month":1,"date":1,"utc":true},{"year":2011,"month":1,"date":1,"utc":true},{"year":2012,"month":1,"date":1,"utc":true},{"year":2013,"month":1,"date":1,"utc":true},{"year":2014,"month":1,"date":1,"utc":true},{"year":2015,"month":1,"date":1,"utc":true},{"year":2016,"month":1,"date":1,"utc":true},{"year":2017,"month":1,"date":1,"utc":true},{"year":2018,"month":1,"date":1,"utc":true},{"year":2019,"month":1,"date":1,"utc":true},{"year":2020,"month":1,"date":1,"utc":true},{"year":2021,"month":1,"date":1,"utc":true},{"year":2021,"month":7,"date":1,"utc":true}]}},
"x2": {"field": "end"},
"y": {"datum": 3000, "type": "quantitative", "scale": {"domain": [-1000, 3000], "nice": false, "zero": false}, "axis": null},
"y2": {"datum": -1000}
}
},
{
"data": {"values": [{"level":-1000},{"level":-500},{"level":0},{"level":500},{"level":1000},{"level":1500},{"level":2000},{"level":2500},{"level":3000}]},
"mark": {"type": "rule", "color": "#9d9d9d", "strokeWidth": 1.5},
"encoding": {
"y": {"field": "level", "type": "quantitative",
"axis": {"orient": "left", "title": null, "values": [-1000,-500,0,500,1000,1500,2000,2500,3000], "ticks": false, "domain": false, "grid": false, "labelPadding": 20, "labelFont": "Open Sans", "labelFontSize": 18, "labelColor": "#333333",
"labelExpr": "datum.value == 0 ? '0' : (datum.value > 0 ? '+' : '-') + (abs(datum.value) >= 1000 ? floor(abs(datum.value) / 1000) + ' ' + (abs(datum.value) % 1000 == 0 ? '000' : '500') : ' ' + abs(datum.value))"}}
}
},
{
"mark": {"type": "line", "strokeWidth": 6.5, "strokeCap": "round", "strokeJoin": "round"},
"encoding": {
"x": {"field": "date", "type": "temporal",
"scale": {"type": "utc", "domain": [{"year":2010,"month":1,"date":1,"utc":true},{"year":2021,"month":7,"date":1,"utc":true}]},
"axis": {"orient": "bottom", "title": null, "labels": false, "domain": false, "grid": false, "tickCount": {"interval": "month", "step": 1}, "tickSize": 5, "tickColor": "#9a9a9a", "tickWidth": 1.2}},
"y": {"field": "value", "type": "quantitative", "axis": null},
"color": {"field": "name", "type": "nominal", "legend": null,
"scale": {"domain": ["Varsinais-Suomi","Turun seutu","Salon seutu","Turunmaa","Loimaan seutu","Vakka-Suomi"], "range": ["#9a9a98","#56707e","#76646c","#e8b73e","#5f9a36","#bb5a38"]}}
}
},
{
"mark": {"type": "circle", "size": 10, "color": "#ffffff", "opacity": 0.55},
"encoding": {
"x": {"field": "date", "type": "temporal",
"axis": {"orient": "bottom", "title": null, "domain": false, "grid": false, "ticks": false, "labelPadding": 17, "labelFont": "Open Sans", "labelFontSize": 18, "labelColor": "#333333", "labelFlush": false, "labelOverlap": false,
"labelExpr": "utcFormat(datum.value, '%Y')",
"values": [{"year":2010,"month":7,"date":1,"utc":true},{"year":2011,"month":7,"date":1,"utc":true},{"year":2012,"month":7,"date":1,"utc":true},{"year":2013,"month":7,"date":1,"utc":true},{"year":2014,"month":7,"date":1,"utc":true},{"year":2015,"month":7,"date":1,"utc":true},{"year":2016,"month":7,"date":1,"utc":true},{"year":2017,"month":7,"date":1,"utc":true},{"year":2018,"month":7,"date":1,"utc":true},{"year":2019,"month":7,"date":1,"utc":true},{"year":2020,"month":7,"date":1,"utc":true},{"year":2021,"month":4,"date":1,"utc":true}]}},
"y": {"field": "value", "type": "quantitative", "axis": null}
}
},
{
"transform": [{"filter": "datum.name == 'Turun seutu' && utcyear(datum.date) == 2021 && utcmonth(datum.date) == 3"}],
"mark": {"type": "text", "align": "left", "baseline": "middle", "dx": 14, "dy": -7, "font": "Roboto", "fontSize": 20, "fontWeight": "bold", "color": "#56707e"},
"encoding": {"x": {"field": "date", "type": "temporal", "axis": null}, "y": {"field": "value", "type": "quantitative", "axis": null}, "text": {"field": "name"}}
},
{
"transform": [{"filter": "datum.name == 'Varsinais-Suomi' && utcyear(datum.date) == 2021 && utcmonth(datum.date) == 3"}],
"mark": {"type": "text", "align": "left", "baseline": "middle", "dx": 14, "dy": -6, "font": "Roboto", "fontSize": 20, "fontWeight": "bold", "color": "#9a9a98"},
"encoding": {"x": {"field": "date", "type": "temporal", "axis": null}, "y": {"field": "value", "type": "quantitative", "axis": null}, "text": {"field": "name"}}
},
{
"transform": [{"filter": "datum.name == 'Turunmaa' && utcyear(datum.date) == 2021 && utcmonth(datum.date) == 3"}],
"mark": {"type": "text", "align": "left", "baseline": "middle", "dx": 14, "dy": -8, "font": "Roboto", "fontSize": 20, "fontWeight": "bold", "color": "#e8b73e"},
"encoding": {"x": {"field": "date", "type": "temporal", "axis": null}, "y": {"field": "value", "type": "quantitative", "axis": null}, "text": {"field": "name"}}
},
{
"transform": [{"filter": "datum.name == 'Vakka-Suomi' && utcyear(datum.date) == 2021 && utcmonth(datum.date) == 3"}],
"mark": {"type": "text", "align": "left", "baseline": "middle", "dx": 14, "dy": -2, "font": "Roboto", "fontSize": 20, "fontWeight": "bold", "color": "#bb5a38"},
"encoding": {"x": {"field": "date", "type": "temporal", "axis": null}, "y": {"field": "value", "type": "quantitative", "axis": null}, "text": {"field": "name"}}
},
{
"transform": [{"filter": "datum.name == 'Loimaan seutu' && utcyear(datum.date) == 2021 && utcmonth(datum.date) == 3"}],
"mark": {"type": "text", "align": "left", "baseline": "middle", "dx": 14, "dy": 16, "font": "Roboto", "fontSize": 20, "fontWeight": "bold", "color": "#5f9a36"},
"encoding": {"x": {"field": "date", "type": "temporal", "axis": null}, "y": {"field": "value", "type": "quantitative", "axis": null}, "text": {"field": "name"}}
},
{
"transform": [{"filter": "datum.name == 'Salon seutu' && utcyear(datum.date) == 2021 && utcmonth(datum.date) == 3"}],
"mark": {"type": "text", "align": "left", "baseline": "middle", "dx": 14, "dy": 5, "font": "Roboto", "fontSize": 20, "fontWeight": "bold", "color": "#76646c"},
"encoding": {"x": {"field": "date", "type": "temporal", "axis": null}, "y": {"field": "value", "type": "quantitative", "axis": null}, "text": {"field": "name"}}
}
]
}
